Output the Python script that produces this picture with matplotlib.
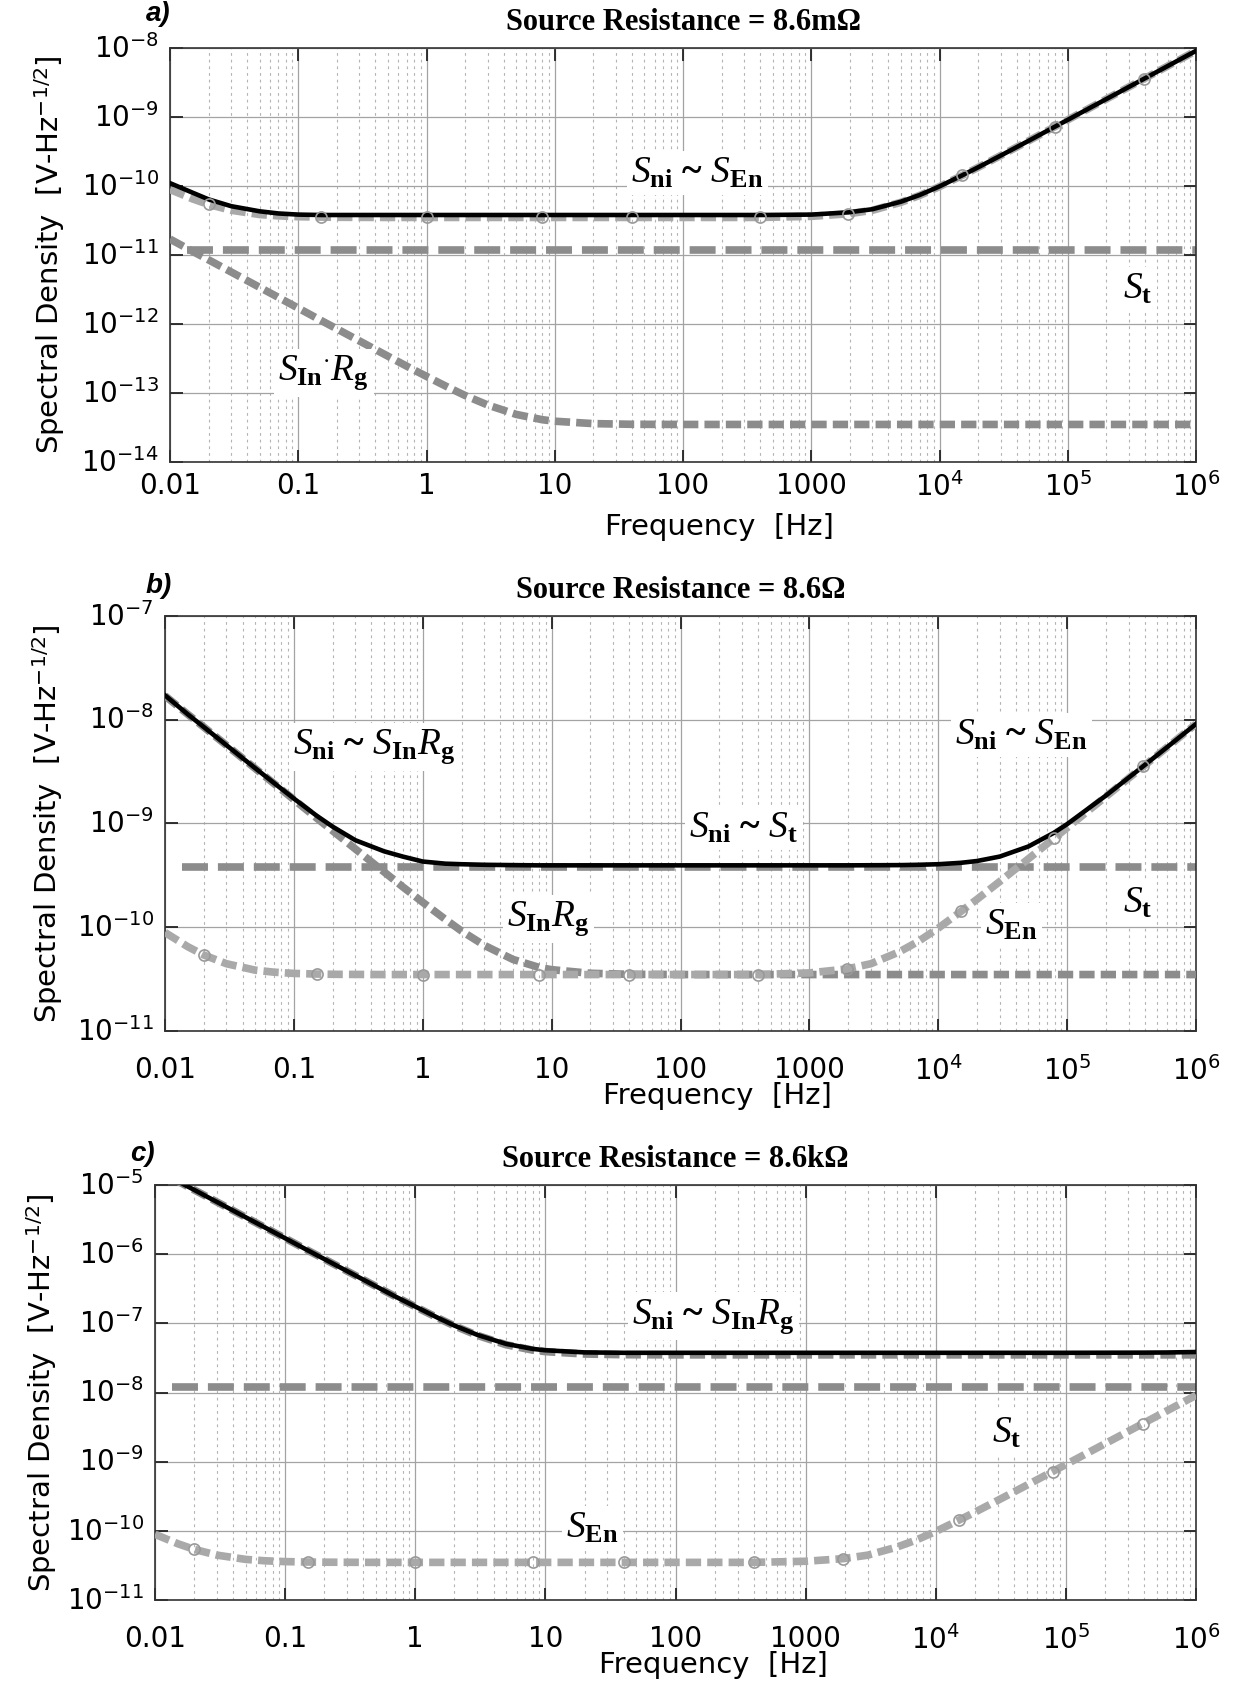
import numpy as np
import matplotlib
matplotlib.use("Agg")
import matplotlib.pyplot as plt
import matplotlib.transforms as mtransforms
from matplotlib.ticker import FixedLocator, LogLocator, NullLocator, NullFormatter

# ---- data ----
freq = [0.01, 0.015, 0.02, 0.03, 0.05, 0.07, 0.1, 0.15, 0.2, 0.3, 0.5, 0.7,
        1, 1.5, 2, 3, 5, 8, 10, 20, 40, 100, 400, 1000, 1950, 3000, 5000,
        7000, 1e4, 1.5e4, 2e4, 3e4, 5e4, 7.9e4, 1e5, 2e5, 3.9e5, 6e5, 1e6]

# amplifier voltage noise S_En, same in all panels  [1e-11 V/rtHz]
s_en = np.array([8.9, 6.5, 5.4, 4.45, 3.86, 3.69, 3.59, 3.54, 3.52, 3.51, 3.5, 3.5,
                 3.5, 3.5, 3.5, 3.5, 3.5, 3.5, 3.5, 3.5, 3.5, 3.5, 3.5, 3.63, 3.96, 4.45, 5.8,
                 7.3, 9.8, 14.2, 18.6, 27.6, 45.6, 72, 91, 182, 355, 546, 910]) * 1e-11

# current noise times source resistance, panel a  [1e-13 V/rtHz]
s_in_rg_a = np.array([170, 113, 85, 56.7, 34, 24.3, 17, 11.3, 8.5, 5.68, 3.42, 2.45,
                      1.74, 1.19, 0.92, 0.67, 0.49, 0.41, 0.39, 0.36, 0.352, 0.35, 0.35, 0.35, 0.35, 0.35, 0.35,
                      0.35, 0.35, 0.35, 0.35, 0.35, 0.35, 0.35, 0.35, 0.35, 0.35, 0.35, 0.35]) * 1e-13
s_in_rg_b = s_in_rg_a * 1e3
s_in_rg_c = s_in_rg_a * 1e6

# total input noise S_ni per panel
s_ni_a = np.array([11.0, 8.0, 6.4, 5.1, 4.3, 4.0, 3.85, 3.8, 3.8, 3.8, 3.8, 3.8,
                   3.8, 3.8, 3.8, 3.8, 3.8, 3.8, 3.8, 3.8, 3.8, 3.8, 3.8, 3.85, 4.15, 4.61, 5.92,
                   7.4, 9.87, 14.25, 18.64, 27.6, 45.6, 72, 91, 182, 355, 546, 910]) * 1e-11
s_ni_b = np.array([172, 113, 85.1, 56.8, 34.2, 24.6, 17.4, 11.9, 9.32, 6.9, 5.4, 4.8,
                   4.3, 4.1, 4.05, 4.0, 3.97, 3.95, 3.95, 3.95, 3.95, 3.95, 3.95, 3.95, 3.95, 3.96, 3.97,
                   4.0, 4.05, 4.18, 4.35, 4.8, 6.0, 8.14, 9.86, 18.6, 35.7, 54.7, 91.1]) * 1e-10
s_ni_c = np.array([1700, 1130, 850, 567, 340, 243, 170, 113, 85, 56.8, 34.2, 24.5,
                   17.5, 11.96, 9.28, 6.81, 5.04, 4.27, 4.08, 3.8, 3.75, 3.75, 3.75, 3.75, 3.75, 3.75, 3.75,
                   3.75, 3.75, 3.75, 3.75, 3.75, 3.75, 3.75, 3.75, 3.76, 3.77, 3.79, 3.85]) * 1e-8

# thermal noise of the source resistor
freq_t = [0.0135, 1e6]
s_t_a = [1.2e-11, 1.2e-11]
s_t_b = [3.8e-10, 3.8e-10]
s_t_c = [1.2e-8, 1.2e-8]

# frequencies carrying the round markers on S_En
mark_freq = [0.02, 0.15, 1, 8, 40, 400, 1950, 1.5e4, 7.9e4, 3.9e5]

xtick_vals = [0.01, 0.1, 1, 10, 100, 1000, 1e4, 1e5, 1e6]
xtick_labels = ["0.01", "0.1", "1", "10", "100", "1000",
                r"$\mathdefault{10^{4}}$", r"$\mathdefault{10^{5}}$", r"$\mathdefault{10^{6}}$"]

plt.rcParams["font.family"] = ["DejaVu Sans"]
plt.rcParams["mathtext.fontset"] = "custom"
plt.rcParams["mathtext.rm"] = "Liberation Serif"
plt.rcParams["mathtext.it"] = "Liberation Serif:italic"
plt.rcParams["mathtext.bf"] = "Liberation Serif:bold"

W, H = 1235, 1694
fig = plt.figure(figsize=(W / 100, H / 100), dpi=100)
fig.patch.set_facecolor("white")

C_DARK = "#8c8c8c"
C_LIGHT = "#a9a9a9"
mark_idx = [freq.index(f) for f in mark_freq]


def make_axes(left, top, right, bottom):
    return fig.add_axes([left / W, 1 - bottom / H, (right - left) / W, (bottom - top) / H])


def style_axes(ax, ylim, xpad):
    ax.set_xscale("log")
    ax.set_yscale("log")
    ax.set_xlim(0.01, 1e6)
    ax.set_ylim(*ylim)
    ax.xaxis.set_major_locator(FixedLocator(xtick_vals))
    ax.set_xticklabels(xtick_labels)
    ax.xaxis.set_minor_locator(LogLocator(base=10, subs=np.arange(2, 10), numticks=20))
    ax.xaxis.set_minor_formatter(NullFormatter())
    ax.yaxis.set_major_locator(LogLocator(base=10, numticks=20))
    ax.yaxis.set_minor_locator(NullLocator())
    ax.grid(which="major", color="#a3a3a3", lw=0.9, ls="-", zorder=0)
    ax.grid(which="minor", axis="x", color="#b4b4b4", lw=0.8, ls=(0, (2.5, 3.5)), zorder=0)
    ax.tick_params(which="major", direction="in", length=9, width=1.3, top=True, right=True,
                   labelsize=20, pad=8, colors="#222222", labelcolor="black")
    ax.tick_params(axis="x", which="major", pad=xpad)
    ax.tick_params(which="minor", length=0)
    for sp in ax.spines.values():
        sp.set_color("#333333")
        sp.set_linewidth(1.2)


def center_y_digits(ax):
    # put the "10" of each y label on its grid line, exponent sticking up
    shift = mtransforms.ScaledTranslation(0, -7 / 72, fig.dpi_scale_trans)
    for tick in ax.yaxis.get_major_ticks():
        tick.label1.set_verticalalignment("baseline")
        tick.label1.set_transform(tick.label1.get_transform() + shift)


def draw_curves(ax, s_t, s_in_rg, s_ni):
    ax.plot(freq_t, s_t, color=C_DARK, lw=5.5, ls=(0, (3.4, 1.3)), zorder=2)
    ax.plot(freq, s_in_rg, color=C_DARK, lw=5.5, ls=(0, (2.0, 0.8)), zorder=3)
    ax.plot(freq, s_en, color=C_LIGHT, lw=5.5, ls=(0, (2.0, 0.8)), zorder=4)
    ax.plot(freq, s_ni, color="black", lw=3.3, zorder=5)
    ax.plot(freq, s_en, ls="none", marker="o", markevery=mark_idx, ms=8,
            mfc="none", mec="#999999", mew=1.2, zorder=6)


def label(ax, x, y, s, size=27):
    ax.text(x, y, s, fontsize=size, family="Liberation Serif", fontweight="bold",
            ha="center", va="center", zorder=7,
            bbox=dict(boxstyle="square,pad=0.12", fc="white", ec="none"))


def frame_text(ax, letter, letter_xy, title, ylabel_x):
    ax.set_title(title, fontsize=22, fontweight="bold", family="Liberation Serif", pad=13)
    fig.text(letter_xy[0] / W, 1 - letter_xy[1] / H, letter, fontsize=20,
             family="Liberation Sans", fontweight="bold", style="italic", va="center")
    bb = ax.get_position()
    fig.text(ylabel_x / W, bb.y0 + bb.height / 2,
             r"Spectral Density  [V-Hz$^{\mathdefault{-1/2}}$]", rotation=90,
             ha="center", va="center", fontsize=21)
    ax.text(0.536, -0.157, "Frequency  [Hz]", transform=ax.transAxes,
            ha="center", va="center", fontsize=21)


S_NI = r"$S_{\mathbf{ni}}$"

# panel a: 8.6 mOhm
ax_a = make_axes(170, 48, 1196, 462)
style_axes(ax_a, (1e-14, 1e-8), 7)
draw_curves(ax_a, s_t_a, s_in_rg_a, s_ni_a)
label(ax_a, 129, 1.55e-10, S_NI + " ~ " + r"$S_{\mathbf{En}}$")
label(ax_a, 3.5e5, 3.2e-12, r"$S_{\mathbf{t}}$")
label(ax_a, 0.158, 1.95e-13, r"$S_{\mathbf{In}}{}^{\mathbf{\cdot}}R_{\mathbf{g}}$")
frame_text(ax_a, "a)", (146, 14), "Source Resistance = 8.6mΩ", 50)

# panel b: 8.6 Ohm
ax_b = make_axes(165, 616, 1196, 1031)
style_axes(ax_b, (1e-11, 1e-7), 18)
draw_curves(ax_b, s_t_b, s_in_rg_b, s_ni_b)
label(ax_b, 0.42, 5.5e-9, S_NI + " ~ " + r"$S_{\mathbf{In}}R_{\mathbf{g}}$")
label(ax_b, 310, 9.1e-10, S_NI + " ~ " + r"$S_{\mathbf{t}}$")
label(ax_b, 4.4e4, 7.1e-9, S_NI + " ~ " + r"$S_{\mathbf{En}}$")
label(ax_b, 9.4, 1.2e-10, r"$S_{\mathbf{In}}R_{\mathbf{g}}$")
label(ax_b, 3.7e4, 1.05e-10, r"$S_{\mathbf{En}}$")
label(ax_b, 3.5e5, 1.7e-10, r"$S_{\mathbf{t}}$")
frame_text(ax_b, "b)", (146, 586), "Source Resistance = 8.6Ω", 48)

# panel c: 8.6 kOhm
ax_c = make_axes(155, 1185, 1196, 1600)
style_axes(ax_c, (1e-11, 1e-5), 18)
draw_curves(ax_c, s_t_c, s_in_rg_c, s_ni_c)
label(ax_c, 195, 1.26e-7, S_NI + " ~ " + r"$S_{\mathbf{In}}R_{\mathbf{g}}$")
label(ax_c, 3.5e4, 2.6e-9, r"$S_{\mathbf{t}}$")
label(ax_c, 23, 1.1e-10, r"$S_{\mathbf{En}}$")
frame_text(ax_c, "c)", (130, 1154), "Source Resistance = 8.6kΩ", 42)

for ax in (ax_a, ax_b, ax_c):
    center_y_digits(ax)

fig.savefig("out.png", dpi=100, facecolor="white")
